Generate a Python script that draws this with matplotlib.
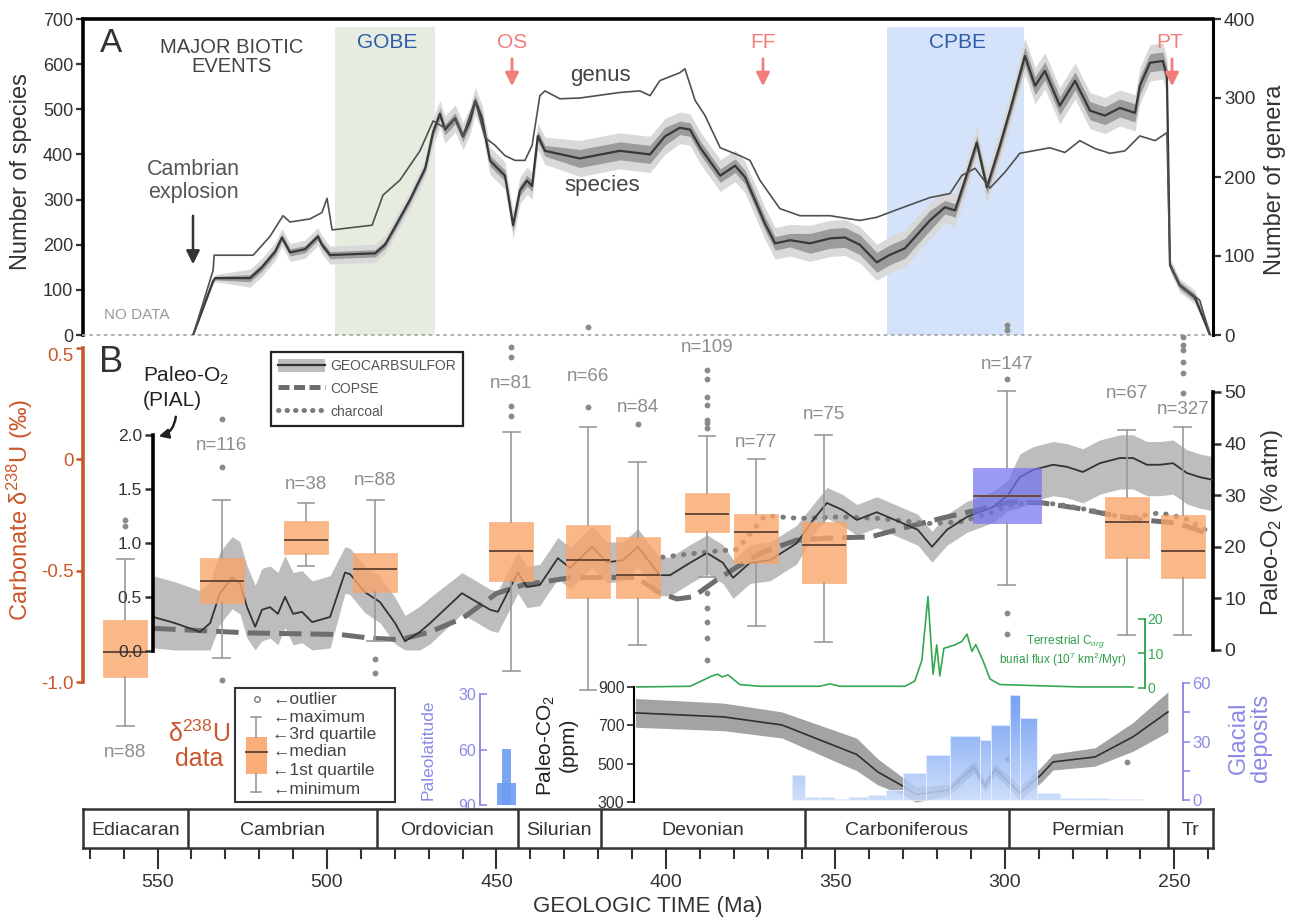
import matplotlib
matplotlib.use("Agg")
import matplotlib.pyplot as plt
import numpy as np
from matplotlib.lines import Line2D
from matplotlib.patches import Patch, Rectangle, PathPatch
from matplotlib.path import Path
from matplotlib.colors import LinearSegmentedColormap
from matplotlib.ticker import MultipleLocator

plt.rcParams['font.family'] = ['Liberation Sans', 'DejaVu Sans']
plt.rcParams['mathtext.fontset'] = 'custom'
plt.rcParams['mathtext.rm'] = 'Liberation Sans'
plt.rcParams['mathtext.it'] = 'Liberation Sans:italic'
plt.rcParams['mathtext.bf'] = 'Liberation Sans:bold'

# ── Data (ages in Ma) ────────────────────────────────────────────────────────
species_age = [539.5, 533.6, 533.0, 522.7, 519.2, 515.3, 513.3, 510.9, 506.5, 502.7,
               501.5, 499.1, 485.8, 482.9, 479.9, 475.5, 471.0, 468.7, 466.7, 465.2,
               462.2, 459.9, 457.8, 456.3, 454.3, 451.9, 447.5, 445.1, 443.1, 441.0,
               439.5, 437.8, 435.7, 425.4, 413.6, 404.7, 400.3, 395.9, 392.9, 389.9,
               384.0, 379.6, 376.7, 373.7, 370.8, 367.8, 363.4, 357.5, 351.6, 347.2,
               342.8, 337.8, 334.1, 329.5, 322.1, 317.7, 314.7, 311.8, 308.3, 305.3,
               301.5, 298.5, 294.1, 291.1, 288.2, 283.8, 279.3, 274.9, 270.5, 266.1,
               261.6, 260.2, 257.2, 253.4, 252.2, 251.3, 248.4, 244.0, 239.5]
species = [0, 120, 126, 126, 150, 185, 216, 183, 190, 218,
           200, 177, 181, 200, 240, 300, 370, 450, 490, 455,
           480, 440, 475, 519, 480, 386, 353, 243, 320, 342,
           330, 441, 408, 391, 408, 400, 440, 459, 455, 415,
           353, 375, 350, 298, 247, 203, 210, 203, 214, 216,
           200, 161, 177, 192, 254, 283, 276, 342, 426, 327,
           419, 497, 618, 552, 585, 508, 563, 497, 486, 503,
           492, 552, 603, 607, 574, 155, 110, 84, 0]
species_ci_outer = ([8] * 3 + [20] * 9 + [20] * 5 + [30] * 16 + [40] * 4 + [35] * 10
                    + [40] * 8 + [35] * 7 + [40] * 13 + [15] * 4)
species_ci_inner = ([4] * 3 + [8] * 9 + [8] * 5 + [12] * 16 + [20] * 4 + [15] * 10
                    + [22] * 8 + [15] * 7 + [20] * 13 + [8] * 4)

genus_age = [539.5, 533.6, 533.3, 521.8, 516.8, 513.0, 510.9, 505.0, 501.5, 500.0,
             498.5, 486.7, 483.5, 478.5, 472.6, 468.7, 465.2, 462.2, 459.9, 456.3,
             453.4, 450.4, 447.5, 444.5, 441.6, 439.5, 437.2, 435.7, 431.3, 425.4,
             413.6, 407.7, 404.7, 401.8, 395.9, 394.4, 391.4, 388.5, 384.0, 378.2,
             375.2, 372.3, 366.4, 360.5, 351.6, 342.8, 337.8, 331.0, 322.1, 316.2,
             312.7, 308.8, 304.4, 300.0, 295.6, 286.7, 282.3, 277.9, 273.4, 269.0,
             264.6, 260.2, 255.7, 252.2, 251.3, 248.4, 242.5, 239.5]
genus = [0, 82, 101, 101, 125, 151, 143, 147, 155, 173,
         133, 139, 177, 196, 233, 271, 262, 274, 252, 297,
         250, 240, 227, 221, 221, 240, 303, 309, 299, 300,
         307, 309, 303, 322, 332, 337, 297, 278, 237, 227,
         221, 196, 160, 151, 151, 145, 149, 160, 174, 179,
         202, 211, 186, 206, 230, 237, 231, 246, 236, 230,
         233, 252, 246, 256, 88, 63, 44, 0]

# GEOCARBSULFOR paleo-O2 (% atm) with uncertainty band
geo_age = [551.3, 544.8, 537.5, 534.5, 531.6, 528.0, 525.7, 523.6, 521.2, 519.2,
           516.8, 514.5, 512.4, 510.0, 507.4, 504.4, 499.1, 494.7, 493.2, 488.8,
           484.4, 479.9, 477.0, 472.6, 469.6, 460.2, 451.9, 449.6, 443.7, 441.0,
           437.2, 431.9, 428.3, 421.8, 417.4, 412.7, 408.3, 401.8, 398.8, 392.9,
           387.9, 383.2, 380.2, 375.2, 369.3, 361.4, 356.6, 352.5, 347.8, 343.7,
           337.8, 331.0, 325.7, 321.5, 317.1, 311.2, 303.5, 299.1, 295.6, 291.7,
           285.8, 281.7, 277.0, 272.0, 266.1, 262.2, 258.1, 254.3, 250.4, 246.3,
           242.5, 238.9]
geo_o2 = [6.4, 5.2, 3.5, 5.2, 11, 14, 13, 8.3, 4.5, 7.8,
          8.3, 7, 10.3, 7, 7.4, 5.4, 6.4, 15, 14.7, 11.2,
          9.3, 5.2, 1.7, 3.5, 5.2, 11, 7.8, 7.4, 15, 12.2,
          12.6, 17.8, 15.9, 20, 17, 17.4, 20, 14.5, 14.5, 16.9,
          18.8, 16.9, 14, 16.9, 17.4, 20.7, 25.2, 28.5, 27.1, 25.2,
          26.7, 24.8, 23.3, 20, 23.3, 25.8, 27.7, 30, 33.5, 34.9,
          35.9, 35.5, 34.5, 36.2, 37.2, 37.2, 35.9, 35.9, 36.2, 34.3,
          33.5, 33]
geo_err_lo = [6] * 17 + [4] * 8 + [4] * 10 + [4] * 11 + [3] * 12 + [6] * 14
geo_err_hi = [8] * 17 + [5] * 8 + [4] * 10 + [3.5] * 11 + [3] * 12 + [4.5] * 14

copse_age = [551.3, 522.7, 496.2, 487.3, 478.5, 469.6, 459.9, 449.9, 442.2, 428.3,
             408.6, 401.8, 396.7, 392.0, 385.0, 379.0, 371.4, 361.4, 351.6, 339.8,
             330.1, 318.3, 308.3, 298.5, 288.8, 278.8, 269.0, 259.3, 249.3, 238.9]
copse_o2 = [4.2, 3.3, 3.0, 2.3, 2.0, 3.5, 6.2, 11, 12.6, 14,
            14.1, 11, 9.9, 10.3, 13.6, 16.1, 19, 21.3, 21.7, 21.9,
            23.6, 25.6, 27.1, 28.7, 28.5, 27.5, 26.2, 25.2, 24.6, 22.3]

charcoal_age = [401.0, 387.9, 379.0, 375.2, 370.8, 360.5, 348.7, 336.9, 323.0, 313.3,
                304.4, 298.5, 291.7, 283.8, 274.0, 264.0, 254.3, 246.9, 239.5]
charcoal_o2 = [18, 19, 19.5, 22.5, 26, 25.5, 25.8, 25.5, 24.5, 24.8,
               26.5, 28, 28.7, 28.2, 27, 25.5, 26.6, 25.5, 22.8]

# Carbonate d238U box statistics
box_age = [559.6, 531.1, 506.2, 485.8, 445.7, 423.0, 408.3, 387.9, 373.4, 353.4, 299.4, 264.0, 247.5]
box_n = [88, 116, 38, 88, 81, 66, 84, 109, 77, 75, 147, 67, 327]
box_q1 = [-0.975, -0.644, -0.424, -0.594, -0.545, -0.621, -0.621, -0.325, -0.464, -0.554, -0.285, -0.442, -0.531]
box_q3 = [-0.720, -0.442, -0.276, -0.419, -0.280, -0.294, -0.348, -0.150, -0.244, -0.280, -0.038, -0.168, -0.249]
box_med = [-0.863, -0.545, -0.361, -0.491, -0.410, -0.451, -0.518, -0.244, -0.325, -0.383, -0.164, -0.280, -0.410]
box_whislo = [-1.195, -0.890, -0.478, -0.814, -0.949, -1.034, -0.832, -0.527, -0.747, -0.818, -0.563, -0.787, -0.787]
box_whishi = [-0.446, -0.182, -0.195, -0.182, 0.123, 0.146, -0.011, 0.105, 0.002, 0.110, 0.307, 0.132, 0.146]
box_fliers = [[-0.271, -0.298],
              [0.182, -0.034, -0.989],
              [],
              [-0.895, -0.957],
              [0.240, 0.195, 0.504, 0.460],
              [0.235, 0.594],
              [0.159],
              [0.141, 0.164, 0.177, 0.244, 0.280, 0.361, 0.401,
               -0.599, -0.666, -0.729, -0.800, -0.899],
              [],
              [],
              [0.361, 0.581, 0.603, -0.688, -0.782, -1.343],
              [-1.357],
              [0.298, 0.388, 0.437, 0.491, 0.513, 0.549]]
box_label_y = [-1.312, 0.065, -0.114, -0.096, 0.343, 0.370, 0.231, 0.504, 0.078, 0.200, 0.424, 0.298, 0.222]

# Terrestrial Corg burial flux (10^7 km2/Myr)
flux_age = [408.6, 392.9, 388.5, 386.4, 384.7, 383.5, 381.7, 378.2, 372.3, 354.6,
            351.6, 348.7, 329.5, 326.6, 324.5, 322.7, 321.2, 320.1, 319.2, 318.0,
            314.7, 312.7, 311.2, 309.7, 308.6, 306.5, 304.4, 301.5, 277.9, 262.2]
flux = [0.3, 0.5, 2.5, 3.5, 4.0, 3.2, 3.8, 1.0, 0.5, 0.5,
        1.2, 0.5, 0.5, 2.0, 8, 26.5, 4, 12.5, 3.5, 11.5,
        12.5, 13.5, 15.6, 10.6, 12.6, 8, 2.6, 1.0, 0.3, 0.3]

# Paleo-CO2 (ppm)
co2_age = [409.0, 383.0, 365.8, 343.7, 337.5, 330.1, 326.3, 321.5, 316.5, 309.1,
           305.9, 302.9, 295.6, 289.4, 285.8, 273.4, 262.2, 251.9]
co2 = [765, 744, 702, 548, 457, 383, 340, 350, 363, 483,
       383, 472, 347, 441, 509, 535, 640, 770]
co2_err = [75, 72, 68, 85, 68, 45, 40, 35, 30, 30, 30, 30, 35, 40, 42, 48, 75, 105]

# Glacial deposits histogram
glac_edges = [362.8, 359.0, 354.6, 350.4, 346.0, 340.4, 335.1, 330.1, 323.3, 316.1,
              307.4, 304.1, 298.5, 295.6, 290.6, 283.8, 277.0, 272.9, 269.6, 259.3]
glac_count = [12.8, 1.5, 1.5, 0.5, 1.5, 2.6, 5, 14, 23, 33,
              31, 38.5, 54, 42, 3.6, 0.8, 0.8, 1.0, 0.3]

# Paleolatitude of glacial deposits (Hirnantian)
plat_old = [449.8, 448.4]
plat_young = [444.2, 445.7]
plat_top = [78, 59.7]

# Geologic timescale
period_names = ["Ediacaran", "Cambrian", "Ordovician", "Silurian", "Devonian",
                "Carboniferous", "Permian", "Tr"]
period_bounds = [541.0, 485.4, 443.8, 419.2, 358.9, 298.9, 251.9]

# Biotic events
gobe_span = (497.6, 468.1)
cpbe_span = (334.8, 294.4)

# ── Layout helpers ───────────────────────────────────────────────────────────
W, H = 1296, 919
XL = (572.0, 238.6)


def rect(x0, y0, x1, y1):
    return [x0 / W, 1 - y1 / H, (x1 - x0) / W, (y1 - y0) / H]


def keep_spines(ax, keep):
    for k, s in ax.spines.items():
        s.set_visible(k in keep)


ORANGE_TXT = '#c9572c'
BOX_ORANGE = '#f9a56b'
BOX_BLUE = '#7373ef'
PURPLE = '#8b8be6'
GREEN = '#35a852'
PINK = '#f27d7d'
BLUE_TXT = '#2f5ca8'
DARK = '#333333'

fig = plt.figure(figsize=(W / 100, H / 100), dpi=100)
fig.patch.set_facecolor('white')

# ── Panel A: diversity ───────────────────────────────────────────────────────
axA = fig.add_axes(rect(83, 19, 1213, 335))
axA.set_xlim(XL)
axA.set_ylim(0, 700)
axA.axvspan(*gobe_span, ymin=0, ymax=0.975, color='#e6ecdf', lw=0, zorder=0)
axA.axvspan(*cpbe_span, ymin=0, ymax=0.975, color='#d4e3f9', lw=0, zorder=0)

sp = np.array(species, float)
so = np.array(species_ci_outer, float)
si = np.array(species_ci_inner, float)
axA.fill_between(species_age, np.clip(sp - so, 0, None), sp + so, color='#d9d9d9', lw=0, zorder=1)
axA.fill_between(species_age, np.clip(sp - si, 0, None), sp + si, color='#9c9c9c', lw=0, zorder=2)
axA.plot(species_age, sp, color='#383838', lw=1.6, zorder=3)

axA.set_xticks([])
axA.set_yticks(range(0, 701, 100))
axA.tick_params(axis='y', labelsize=13, length=5, width=1.6, colors=DARK, pad=2)
keep_spines(axA, ['top', 'left', 'bottom'])
axA.spines['top'].set_linewidth(2.6)
axA.spines['left'].set_linewidth(2.6)
axA.spines['bottom'].set_linestyle((0, (1, 3)))
axA.spines['bottom'].set_color('#aaaaaa')
axA.spines['bottom'].set_linewidth(1.3)

axA2 = axA.twinx()
axA2.set_ylim(0, 400)
axA2.plot(genus_age, genus, color='#505050', lw=1.2, zorder=4)
axA2.set_yticks(range(0, 401, 100))
axA2.tick_params(axis='y', labelsize=13.5, length=6, width=1.6, colors=DARK, pad=2)
keep_spines(axA2, ['right'])
axA2.spines['right'].set_linewidth(2.2)

# ── Panel B: paleo-O2 curves (right axis, % atm) ─────────────────────────────
axC = fig.add_axes(rect(83, 336, 1213, 808))
axC.set_facecolor('none')
axC.set_xlim(XL)
axC.set_ylim(-30.62, 60.85)
g = np.array(geo_o2, float)
axC.fill_between(geo_age, np.clip(g - np.array(geo_err_lo), 0, None), g + np.array(geo_err_hi),
                 color='#bdbdbd', lw=0, zorder=1)
axC.plot(geo_age, g, color='#333333', lw=1.3, zorder=3)
axC.plot(copse_age, copse_o2, color='#6e6e6e', lw=3.6, dashes=(4.5, 1.8), zorder=2)
axC.plot(charcoal_age, charcoal_o2, color='#7c7c7c', lw=3.6, dashes=(0.1, 2.0),
         dash_capstyle='round', zorder=2)
axC.yaxis.tick_right()
axC.set_xticks([])
axC.set_yticks(range(0, 51, 10))
axC.tick_params(axis='y', labelsize=14, length=6, width=1.8, colors=DARK, pad=2)
keep_spines(axC, ['right'])
axC.spines['right'].set_bounds(0, 50)
axC.spines['right'].set_linewidth(2.6)

# ── Panel B: carbonate d238U boxes (left axis) ───────────────────────────────
axB = fig.add_axes(rect(83, 336, 1213, 808))
axB.set_facecolor('none')
axB.set_xlim(XL)
axB.set_ylim(-1.5628, 0.5538)
stats = []
for i in range(len(box_age)):
    stats.append(dict(med=box_med[i], q1=box_q1[i], q3=box_q3[i],
                      whislo=box_whislo[i], whishi=box_whishi[i],
                      fliers=np.array(box_fliers[i])))
box_width = [13] * 10 + [20] + [13, 13]
bp = axB.bxp(stats, positions=box_age, widths=box_width, patch_artist=True,
             manage_ticks=False, capwidths=5,
             boxprops=dict(lw=0.5),
             medianprops=dict(color='#6b4a3a', lw=1.4),
             whiskerprops=dict(color='#9a9a9a', lw=1.2),
             capprops=dict(color='#9a9a9a', lw=1.2),
             flierprops=dict(marker='o', ms=3.2, mfc='#8a8a8a', mec='#8a8a8a'))
for i, patch in enumerate(bp['boxes']):
    c = BOX_BLUE if box_n[i] == 147 else BOX_ORANGE
    patch.set_facecolor(c)
    patch.set_edgecolor(c)
    patch.set_alpha(0.72 if box_n[i] == 147 else 0.8)
for art in bp['fliers']:
    art.set_clip_on(False)
for a, yl, n in zip(box_age, box_label_y, box_n):
    axB.text(a, yl, f"n={n}", ha='center', va='center', fontsize=13.5, color='#8c8c8c')
axB.set_xticks([])
axB.set_yticks([-1.0, -0.5, 0, 0.5])
axB.set_yticklabels(["-1.0", "-0.5", "0", "0.5"])
axB.tick_params(axis='y', labelsize=13.5, length=5, width=1.8, colors=ORANGE_TXT, pad=2)
axB.get_yticklabels()[-1].set_va('top')
keep_spines(axB, ['left'])
axB.spines['left'].set_bounds(-1.0, 0.5)
axB.spines['left'].set_color(ORANGE_TXT)
axB.spines['left'].set_linewidth(2.6)

# ── Panel B: PIAL paleo-O2 scale ─────────────────────────────────────────────
axP = fig.add_axes(rect(83, 336, 1213, 808))
axP.set_facecolor('none')
axP.set_xlim(XL)
axP.set_ylim(-1.454, 2.917)
keep_spines(axP, ['left'])
axP.spines['left'].set_position(('data', 551.3))
axP.spines['left'].set_bounds(0, 2)
axP.spines['left'].set_linewidth(2.6)
axP.set_xticks([])
axP.set_yticks([0, 0.5, 1.0, 1.5, 2.0])
axP.set_yticklabels(["0.0", "0.5", "1.0", "1.5", "2.0"])
axP.tick_params(axis='y', labelsize=12.5, length=6, width=1.8, colors=DARK, pad=2)

# ── Terrestrial Corg burial flux inset ───────────────────────────────────────
axG = fig.add_axes(rect(83, 560, 1213, 700))
axG.set_facecolor('none')
axG.set_xlim(XL)
axG.set_ylim(-3.48, 37.1)
axG.plot(flux_age, flux, color=GREEN, lw=1.2)
keep_spines(axG, ['right'])
axG.spines['right'].set_position(('data', 258.7))
axG.spines['right'].set_bounds(0, 20)
axG.spines['right'].set_color(GREEN)
axG.spines['right'].set_linewidth(1.4)
axG.yaxis.tick_right()
axG.set_xticks([])
axG.set_yticks([0, 10, 20])
axG.tick_params(axis='y', direction='in', labelsize=10, length=5, width=1.2,
                colors=GREEN, pad=2)

# ── Paleo-CO2 inset ──────────────────────────────────────────────────────────
axCO2 = fig.add_axes(rect(83, 680, 1213, 808))
axCO2.set_facecolor('none')
axCO2.set_xlim(XL)
axCO2.set_ylim(268.7, 936.5)
c2 = np.array(co2, float)
ce = np.array(co2_err, float)
axCO2.fill_between(co2_age, c2 - ce, c2 + ce, color='#a3a3a3', lw=0, zorder=1)
axCO2.plot(co2_age, c2, color='#303030', lw=1.2, zorder=2)
keep_spines(axCO2, ['left'])
axCO2.spines['left'].set_position(('data', 409.4))
axCO2.spines['left'].set_bounds(300, 900)
axCO2.spines['left'].set_linewidth(1.5)
axCO2.set_xticks([])
axCO2.set_yticks([300, 500, 700, 900])
axCO2.tick_params(axis='y', labelsize=11.5, length=5, width=1.3, colors=DARK, pad=2)

# ── Glacial deposits histogram ───────────────────────────────────────────────
axGl = fig.add_axes(rect(83, 680, 1213, 808))
axGl.set_facecolor('none')
left = np.array(glac_edges[:-1])
right = np.array(glac_edges[1:])
bars = axGl.bar(left, glac_count, width=right - left, align='edge',
                color='none', edgecolor='#e8f0fe', lw=0.6, zorder=3)
paths = [b.get_path().transformed(b.get_patch_transform()) for b in bars]
clip = PathPatch(Path.make_compound_path(*paths), transform=axGl.transData,
                 fc='none', ec='none')
axGl.add_patch(clip)
glac_cmap = LinearSegmentedColormap.from_list('glac', ['#c4d8fb', '#4f86f0'])
grad = np.linspace(0, 1, 200).reshape(-1, 1)
im = axGl.imshow(grad, extent=[XL[0], XL[1], 0, 60], origin='lower', aspect='auto',
                 cmap=glac_cmap, alpha=0.85, zorder=2)
im.set_clip_path(clip)
axGl.set_xlim(XL)
axGl.set_ylim(-4.10, 61.54)
keep_spines(axGl, ['right'])
axGl.spines['right'].set_position(('data', 247.5))
axGl.spines['right'].set_bounds(0, 60)
axGl.spines['right'].set_color(PURPLE)
axGl.spines['right'].set_linewidth(1.4)
axGl.yaxis.tick_right()
axGl.set_xticks([])
axGl.set_yticks([0, 30, 60])
axGl.yaxis.set_minor_locator(MultipleLocator(15))
axGl.tick_params(axis='y', which='both', labelsize=12, length=5, width=1.2,
                 colors=PURPLE, pad=2)

# ── Paleolatitude inset ──────────────────────────────────────────────────────
axL = fig.add_axes(rect(83, 680, 1213, 808))
axL.set_facecolor('none')
axL.set_xlim(XL)
axL.set_ylim(91.6, 22.4)
po = np.array(plat_old)
axL.bar(po, np.array(plat_top) - 90, bottom=90, width=np.array(plat_young) - po,
        align='edge', color='#6d9cf3', lw=0, alpha=0.9)
keep_spines(axL, ['left'])
axL.spines['left'].set_position(('data', 454.9))
axL.spines['left'].set_bounds(30, 90)
axL.spines['left'].set_color(PURPLE)
axL.spines['left'].set_linewidth(1.4)
axL.set_xticks([])
axL.set_yticks([30, 60, 90])
axL.tick_params(axis='y', direction='in', labelsize=11.5, length=5, width=1.2,
                colors=PURPLE, pad=3)

# ── Geologic timescale ───────────────────────────────────────────────────────
axT = fig.add_axes(rect(83, 809, 1213, 848))
axT.set_xlim(XL)
axT.set_ylim(0, 1)
for b in period_bounds:
    axT.axvline(b, color=DARK, lw=1.8)
edges = [XL[0]] + period_bounds + [XL[1]]
for name, a0, a1 in zip(period_names, edges[:-1], edges[1:]):
    axT.text((a0 + a1) / 2, 0.45, name, ha='center', va='center', fontsize=14, color=DARK)
for s in axT.spines.values():
    s.set_linewidth(1.8)
    s.set_color(DARK)
axT.set_yticks([])
axT.set_xticks(range(550, 249, -50))
axT.xaxis.set_minor_locator(MultipleLocator(10))
axT.tick_params(axis='x', which='major', length=15, width=1.5, labelsize=14,
                colors=DARK, pad=4)
axT.tick_params(axis='x', which='minor', length=8, width=1.5, colors=DARK)
axT.set_xlabel("GEOLOGIC TIME (Ma)", fontsize=16, color=DARK, labelpad=3)

# ── Overlay for annotations (pixel coordinates) ──────────────────────────────
ov = fig.add_axes([0, 0, 1, 1])
ov.set_facecolor('none')
ov.set_xlim(0, W)
ov.set_ylim(H, 0)
ov.axis('off')


def t(x, y, s, **kw):
    kw.setdefault('ha', 'center')
    kw.setdefault('va', 'center')
    ov.text(x, y, s, **kw)


t(111, 44, "A", fontsize=24, color=DARK)
t(232, 57, "MAJOR BIOTIC\nEVENTS", fontsize=14.5, color='#444444', linespacing=1.05)
t(387, 43, "GOBE", fontsize=15, color=BLUE_TXT)
t(957, 43, "CPBE", fontsize=15, color=BLUE_TXT)
for x, lab in [(512, "OS"), (763, "FF"), (1170, "PT")]:
    ax_x = x + (2 if lab == "PT" else 0)
    t(x, 42, lab, fontsize=15, color=PINK)
    ov.annotate('', xy=(ax_x, 89), xytext=(ax_x, 56),
                arrowprops=dict(arrowstyle='-|>', mutation_scale=20, color=PINK, lw=2))
t(600, 75, "genus", fontsize=16, color='#444444')
t(602, 185, "species", fontsize=16, color='#444444')
t(193, 181, "Cambrian\nexplosion", fontsize=15.5, color='#555555', linespacing=1.1)
ov.annotate('', xy=(193, 267), xytext=(193, 213),
            arrowprops=dict(arrowstyle='-|>', mutation_scale=20, color='#333333', lw=1.8))
t(137, 315, "NO DATA", fontsize=11, color='#9a9a9a')
t(21, 172, "Number of species", fontsize=17, color=DARK, rotation=90)
t(1275, 180, "Number of genera", fontsize=17, color=DARK, rotation=90)

t(111, 363, "B", fontsize=26, color=DARK)
t(143, 376, "Paleo-O$_2$", fontsize=15, color='#222222', ha='left')
t(143, 401, "(PIAL)", fontsize=15, color='#222222', ha='left')
ov.annotate('', xy=(156, 437), xytext=(176, 414),
            arrowprops=dict(arrowstyle='-|>', mutation_scale=14, color='#222222', lw=1.8,
                            connectionstyle='arc3,rad=-0.4'))
t(20, 510, "Carbonate δ$^{238}$U (‰)", fontsize=17, color=ORANGE_TXT, rotation=90)
t(1272, 523, "Paleo-O$_2$ (% atm)", fontsize=17, color=DARK, rotation=90)

t(1065, 642, "Terrestrial C$_{org}$", fontsize=8.5, color='#2f9e4a')
t(1063, 660, "burial flux (10$^7$ km$^2$/Myr)", fontsize=8.5, color='#2f9e4a')

t(199, 746, "δ$^{238}$U\ndata", fontsize=18, color=ORANGE_TXT, linespacing=1.0)
t(428, 750, "Paleolatitude", fontsize=12.5, color=PURPLE, rotation=90)
t(556, 745, "Paleo-CO$_2$\n(ppm)", fontsize=15, color='#222222', rotation=90, linespacing=1.1)
t(1250, 738, "Glacial\ndeposits", fontsize=17, color=PURPLE, rotation=90, linespacing=1.0)

# Box-plot key
ov.add_patch(Rectangle((235, 688), 160, 114, fill=False, ec=DARK, lw=1.5))
ov.plot([257], [699], 'o', ms=4, mfc='white', mec='#777777')
ov.plot([256, 256], [717, 737], color='#9a9a9a', lw=1.2)
ov.plot([256, 256], [774, 792], color='#9a9a9a', lw=1.2)
ov.plot([251, 261], [717, 717], color='#9a9a9a', lw=1.2)
ov.plot([251, 261], [792, 792], color='#9a9a9a', lw=1.2)
ov.add_patch(Rectangle((246, 737), 21, 37, fc=BOX_ORANGE, ec='none', alpha=0.9))
ov.plot([246, 267], [752, 752], color='#6b4a3a', lw=1.4)
for lab, y in zip(["outlier", "maximum", "3rd quartile", "median", "1st quartile", "minimum"],
                  [699, 717, 735, 752, 771, 790]):
    t(272, y, "\u2190" + lab, fontsize=12.5, color='#444444', ha='left')

# Model legend
handles = [(Patch(facecolor='#bdbdbd', edgecolor='none'), Line2D([], [], color='#333333', lw=1.6)),
           Line2D([], [], color='#6e6e6e', lw=3.6, dashes=(2.2, 0.9)),
           Line2D([], [], color='#7c7c7c', lw=3.6, dashes=(0.1, 1.6), dash_capstyle='round')]
leg = ov.legend(handles, ["GEOCARBSULFOR", "COPSE", "charcoal"], loc='upper left',
                bbox_to_anchor=(271 / W, 1 - 352 / H), bbox_transform=fig.transFigure,
                fontsize=10, handlelength=3.4, handleheight=1.1, labelspacing=0.6,
                borderpad=0.5, handletextpad=0.4, fancybox=False, framealpha=1,
                edgecolor='#222222', borderaxespad=0)
leg.get_frame().set_linewidth(1.6)
for txt in leg.get_texts():
    txt.set_color('#555555')

fig.savefig("out.png", dpi=100, facecolor='white')
